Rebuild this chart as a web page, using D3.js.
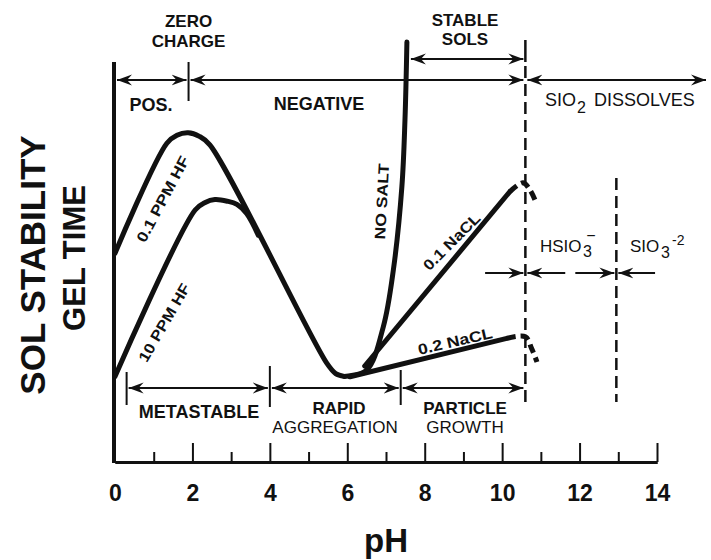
<!DOCTYPE html>
<html>
<head>
<meta charset="utf-8">
<script src="https://cdn.jsdelivr.net/npm/d3@7"></script>
<style>
body { margin: 0; background: #fff; }
svg text { font-family: "Liberation Sans", Arial, sans-serif; font-weight: bold; fill: #111; }
svg text.light { font-weight: normal; }
</style>
</head>
<body>
<svg id="chart" width="711" height="560"></svg>
<script>
// pH axis
var phLabels = [0, 2, 4, 6, 8, 10, 12, 14];
var phMajor = [2, 4, 6, 8, 10, 12, 14];
var phMinor = [1, 3, 5, 7, 9, 11, 13];

// curves: [pH, relative gel time]
var hf01 = [[0, 52.2], [1.34, 79.7], [1.6, 81.7], [1.89, 82.3], [2.18, 81.4], [2.45, 79.3], [5.47, 24.7], [5.7, 22.1], [5.92, 21.4]];
var hf10 = [[0, 21.4], [2.07, 63], [2.33, 64.9], [2.58, 65.6], [2.9, 65.2], [3.15, 64.4], [3.4, 62.1], [3.7, 56.7]];
var noSalt = [[5.92, 21.4], [6.5, 23], [6.93, 33.8], [7.19, 48], [7.41, 68.8], [7.49, 85.5], [7.54, 105]];
var nacl01 = [[6.45, 24], [10.2, 67.6]];
var nacl01Tail = [[10.2, 67.6], [10.54, 69.8], [10.72, 68], [10.88, 64.8]];
var nacl02 = [[6.07, 21.3], [10.12, 30.9]];
var nacl02Tail = [[10.12, 30.9], [10.6, 31.3], [10.76, 28.4], [10.9, 25]];

// region boundaries (pH)
var zeroCharge = 1.9;
var stableStart = 7.54;
var dissolveStart = 10.6;
var speciesBound = 12.95;
var bottomBounds = [0.3, 4, 7.38, 10.6];

var svg = d3.select("#chart");
var x = d3.scaleLinear().domain([0, 14]).range([115, 657]);
var y = d3.scaleLinear().domain([0, 100]).range([462, 62]);

// arrow heads
var defs = svg.append("defs");
defs.append("marker")
    .attr("id", "head")
    .attr("viewBox", "-15 -6 16 12")
    .attr("refX", 0).attr("refY", 0)
    .attr("markerWidth", 16).attr("markerHeight", 12)
    .attr("markerUnits", "userSpaceOnUse")
    .attr("orient", "auto-start-reverse")
  .append("path")
    .attr("d", "M0,0 L-15,-5.5 L-10,0 L-15,5.5 Z")
    .attr("fill", "#111");

function arrow(x1, x2, yy, startHead, endHead) {
    var p = svg.append("line")
        .attr("x1", x1).attr("x2", x2).attr("y1", yy).attr("y2", yy)
        .attr("stroke", "#111").attr("stroke-width", 2);
    if (startHead) p.attr("marker-start", "url(#head)");
    if (endHead) p.attr("marker-end", "url(#head)");
}
function vline(xx, y1, y2, w, dash) {
    var l = svg.append("line")
        .attr("x1", xx).attr("x2", xx).attr("y1", y1).attr("y2", y2)
        .attr("stroke", "#111").attr("stroke-width", w);
    if (dash) l.attr("stroke-dasharray", dash);
}

// x axis
var axisG = svg.append("g").attr("transform", "translate(0,462)");
axisG.call(d3.axisBottom(x).tickValues(phMajor).tickSizeInner(-19).tickSizeOuter(0).tickFormat(""));
axisG.append("g").call(d3.axisBottom(x).tickValues(phMinor).tickSizeInner(-10).tickSizeOuter(0).tickFormat(""));
axisG.selectAll("path.domain").attr("stroke", "#111").attr("stroke-width", 3);
axisG.selectAll(".tick line").attr("stroke", "#111").attr("stroke-width", 2);
axisG.append("g").call(d3.axisBottom(x).tickValues(phLabels).tickSize(0).tickPadding(23))
    .call(function (g) { g.select(".domain").remove(); })
    .selectAll("text")
    .style("font-size", "23px").style("font-family", "'Liberation Sans', Arial, sans-serif")
    .style("font-weight", "bold").attr("fill", "#111");

// y axis
vline(x(0) - 1, 62, 463, 4);

// curves
var line = d3.line().x(function (d) { return x(d[0]); }).y(function (d) { return y(d[1]); })
    .curve(d3.curveCatmullRom.alpha(0.5));
[hf01, hf10, noSalt, nacl01, nacl02].forEach(function (c) {
    svg.append("path").attr("d", line(c)).attr("fill", "none")
        .attr("stroke", "#111").attr("stroke-width", 5)
        .attr("stroke-linecap", "round").attr("stroke-linejoin", "round");
});
[nacl01Tail, nacl02Tail].forEach(function (c) {
    svg.append("path").attr("d", line(c)).attr("fill", "none")
        .attr("stroke", "#111").attr("stroke-width", 5)
        .attr("stroke-dasharray", "9,5");
});

// boundary lines
vline(x(dissolveStart), 40, 62, 2.5);
vline(x(dissolveStart), 66, 406, 2.5, "12,6");
vline(x(speciesBound), 178, 402, 2.5, "12,6");
vline(x(zeroCharge), 62, 101, 2);
vline(x(bottomBounds[0]), 372, 405, 2);
vline(x(bottomBounds[1]), 366, 407, 2);
vline(x(bottomBounds[2]), 370, 405, 2);

// top arrows
arrow(x(0) + 2, x(zeroCharge) - 2, 80, true, true);
arrow(x(zeroCharge) + 2, x(dissolveStart) - 2, 80, true, true);
arrow(x(dissolveStart) + 2, 706, 80, true, true);
arrow(x(stableStart) + 4, x(dissolveStart) - 2, 59, true, true);

// bottom arrows
for (var i = 0; i < bottomBounds.length - 1; i++) {
    arrow(x(bottomBounds[i]) + 2, x(bottomBounds[i + 1]) - 2, 388, true, true);
}

// species arrows
arrow(x(9.56), x(dissolveStart) - 2, 273, false, true);
arrow(x(dissolveStart) + 2, x(11.63), 273, true, false);
arrow(x(11.89), x(speciesBound) - 2, 273, false, true);
arrow(x(speciesBound) + 2, x(13.95), 273, true, false);

// labels
function label(txt, xx, yy, size, cls) {
    return svg.append("text").attr("x", xx).attr("y", yy)
        .attr("text-anchor", "middle").style("font-size", size + "px")
        .attr("class", cls || null).text(txt);
}
label("ZERO", x(zeroCharge), 27, 17);
label("CHARGE", x(zeroCharge), 46.5, 17);
label("STABLE", 465, 25.5, 17);
label("SOLS", 465, 44.5, 17);
label("POS.", 151, 111, 18);
label("NEGATIVE", 319, 110, 18);
label("METASTABLE", 199, 417.5, 18);
label("RAPID", 339, 414, 17);
label("AGGREGATION", 335, 433, 17, "light");
label("PARTICLE", 465, 414, 17);
label("GROWTH", 465, 433, 17, "light");

var sio = svg.append("text").attr("x", 545).attr("y", 106).attr("class", "light").style("font-size", "18px");
sio.append("tspan").text("SIO");
sio.append("tspan").attr("x", 577).attr("dy", 7).style("font-size", "16px").text("2");
sio.append("tspan").attr("x", 594).attr("dy", -7).text("DISSOLVES");

var hs = svg.append("text").attr("x", 540).attr("y", 252).attr("class", "light").style("font-size", "17px");
hs.append("tspan").text("HSIO");
hs.append("tspan").attr("x", 583).attr("dy", 5).style("font-size", "16px").text("3");
svg.append("text").attr("x", 591).attr("y", 241).attr("class", "light")
    .attr("text-anchor", "middle").style("font-size", "16px").text("\u2212");

var s3 = svg.append("text").attr("x", 630).attr("y", 252).attr("class", "light").style("font-size", "17px");
s3.append("tspan").text("SIO");
s3.append("tspan").attr("x", 661).attr("dy", 6).style("font-size", "16px").text("3");
s3.append("tspan").attr("x", 672).attr("dy", -13).style("font-size", "14px").text("-2");

// curve labels
function rotLabel(txt, cx, cy, ang, len) {
    svg.append("text").attr("transform", "translate(" + cx + "," + cy + ") rotate(" + ang + ")")
        .attr("text-anchor", "middle").attr("dominant-baseline", "central")
        .attr("textLength", len).attr("lengthAdjust", "spacingAndGlyphs")
        .style("font-size", "15px").text(txt);
}
rotLabel("0.1 PPM HF", 162.5, 199, -62, 95);
rotLabel("10 PPM HF", 164, 322.5, -60, 88);
rotLabel("NO SALT", 381.5, 201.5, -87, 76);
rotLabel("0.1 NaCL", 451.5, 241.5, -45, 74);
rotLabel("0.2 NaCL", 455, 341, -13, 76);

// axis titles
svg.append("text").attr("transform", "translate(45,265) rotate(-90)")
    .attr("text-anchor", "middle").style("font-size", "35px").text("SOL STABILITY");
svg.append("text").attr("transform", "translate(85,258) rotate(-90)")
    .attr("text-anchor", "middle").style("font-size", "31px").text("GEL TIME");
svg.append("text").attr("x", 386).attr("y", 552).attr("text-anchor", "middle")
    .style("font-size", "33px").text("pH");
</script>
</body>
</html>
